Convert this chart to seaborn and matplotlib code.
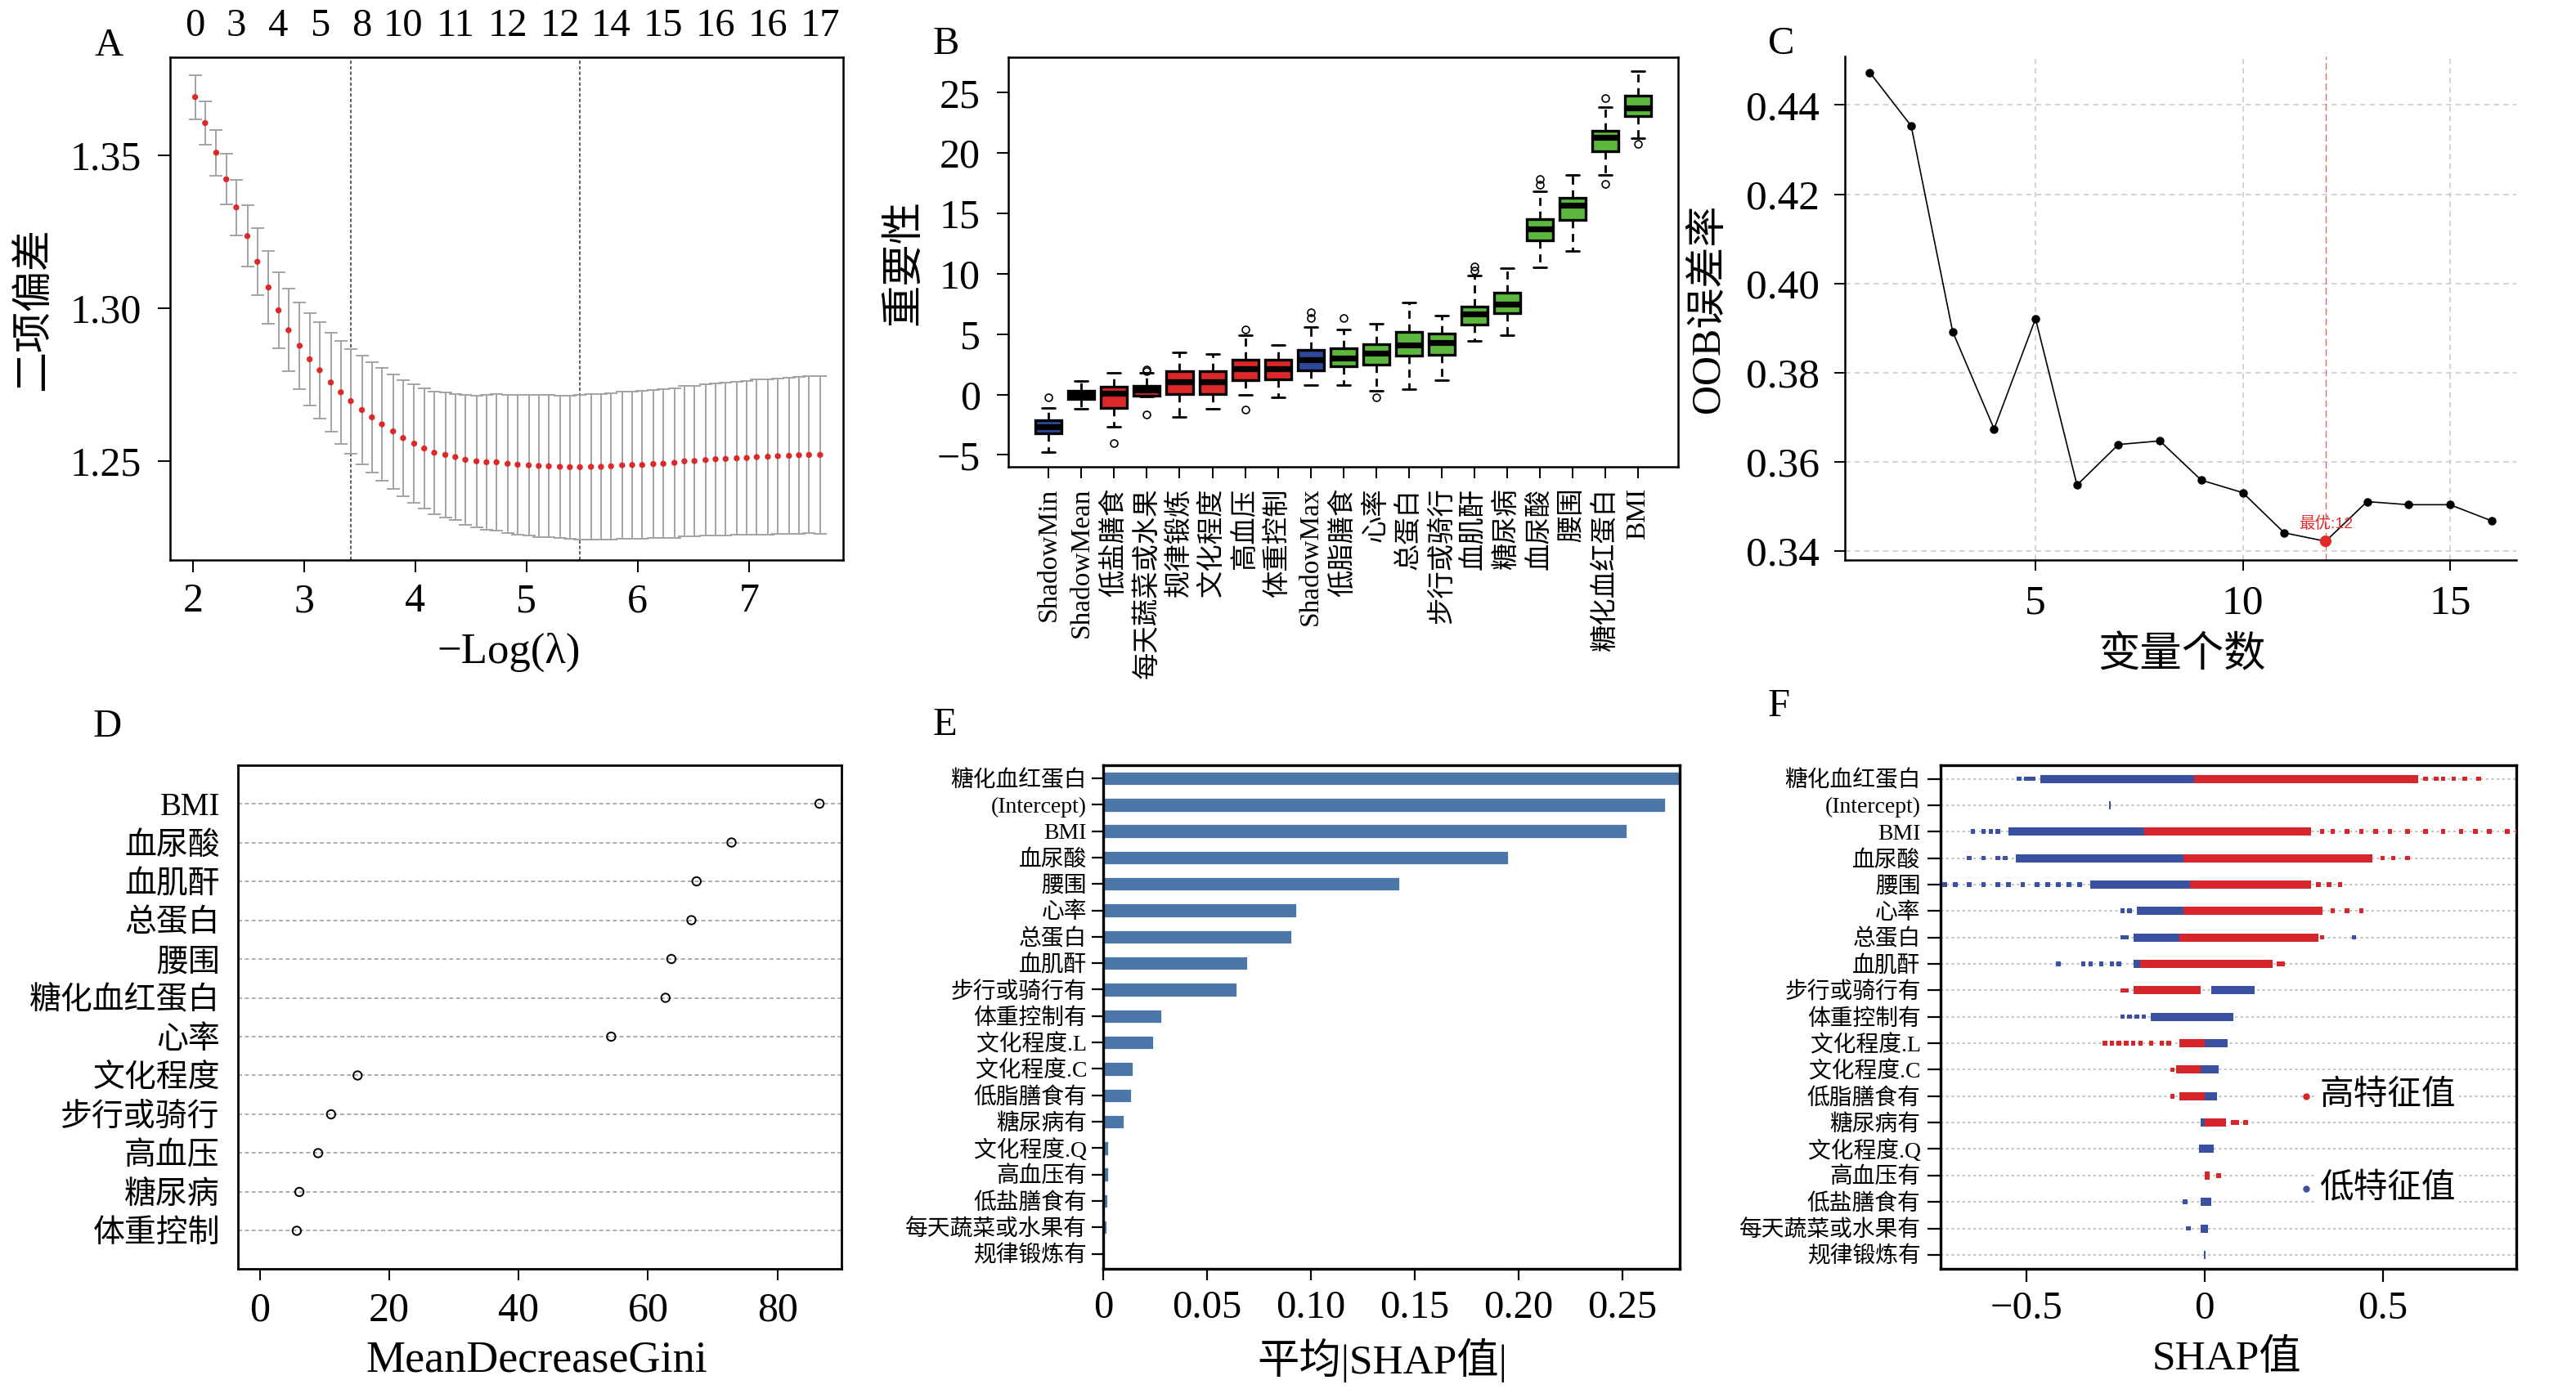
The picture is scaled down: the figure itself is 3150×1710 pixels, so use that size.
import numpy as np
import pandas as pd
import matplotlib
matplotlib.use("Agg")
import matplotlib.pyplot as plt
import seaborn as sns

nan = float("nan")

# ---------------- A: LASSO cross-validation ----------------
neg_log_lambda = [2.02, 2.11, 2.21, 2.30, 2.39, 2.49, 2.58, 2.68, 2.77, 2.86,
                  2.96, 3.05, 3.14, 3.24, 3.33, 3.42, 3.52, 3.61, 3.70, 3.80,
                  3.89, 3.99, 4.08, 4.17, 4.27, 4.36, 4.45, 4.55, 4.64, 4.73,
                  4.83, 4.92, 5.02, 5.11, 5.20, 5.30, 5.39, 5.48, 5.58, 5.67,
                  5.76, 5.86, 5.95, 6.04, 6.14, 6.23, 6.33, 6.42, 6.51, 6.61,
                  6.70, 6.79, 6.89, 6.98, 7.07, 7.17, 7.26, 7.36, 7.45, 7.54, 7.64]
cv_mean = [1.3691, 1.3606, 1.3509, 1.3422, 1.3330, 1.3236, 1.3152, 1.3068, 1.2993, 1.2928,
           1.2877, 1.2833, 1.2797, 1.2757, 1.2725, 1.2696, 1.2667, 1.2643, 1.2620, 1.2597,
           1.2575, 1.2557, 1.2541, 1.2527, 1.2520, 1.2513, 1.2504, 1.2499, 1.2496, 1.2496,
           1.2491, 1.2488, 1.2486, 1.2484, 1.2483, 1.2481, 1.2480, 1.2480, 1.2481, 1.2481,
           1.2483, 1.2486, 1.2487, 1.2487, 1.2490, 1.2491, 1.2494, 1.2499, 1.2500, 1.2503,
           1.2506, 1.2507, 1.2509, 1.2510, 1.2513, 1.2514, 1.2516, 1.2517, 1.2519, 1.2520, 1.2520]
cv_se = [0.0072, 0.0070, 0.0075, 0.0083, 0.0091, 0.0100, 0.0110, 0.0119, 0.0125, 0.0135,
         0.0142, 0.0152, 0.0157, 0.0162, 0.0168, 0.0171, 0.0177, 0.0180, 0.0184, 0.0187,
         0.0190, 0.0194, 0.0197, 0.0201, 0.0204, 0.0207, 0.0212, 0.0216, 0.0220, 0.0223,
         0.0226, 0.0228, 0.0230, 0.0232, 0.0233, 0.0234, 0.0235, 0.0236, 0.0237, 0.0238,
         0.0239, 0.0240, 0.0241, 0.0242, 0.0243, 0.0244, 0.0245, 0.0246, 0.0247, 0.0248,
         0.0249, 0.0250, 0.0251, 0.0252, 0.0253, 0.0254, 0.0255, 0.0256, 0.0257, 0.0257, 0.0258]
nzero_idx = [0, 4, 8, 12, 16, 20, 25, 30, 35, 40, 45, 50, 55, 60]
nzero_lab = ["0", "3", "4", "5", "8", "10", "11", "12", "12", "14", "15", "16", "16", "17"]
lambda_1se_idx = 15
lambda_min_idx = 37

# ---------------- B: Boruta importance ----------------
boruta_vars = ["ShadowMin", "ShadowMean", "低盐膳食", "每天蔬菜或水果", "规律锻炼", "文化程度",
               "高血压", "体重控制", "ShadowMax", "低脂膳食", "心率", "总蛋白", "步行或骑行",
               "血肌酐", "糖尿病", "血尿酸", "腰围", "糖化血红蛋白", "BMI"]
boruta_status = ["shadow", "shadow", "rejected", "rejected", "rejected", "rejected",
                 "rejected", "rejected", "shadow", "confirmed", "confirmed", "confirmed",
                 "confirmed", "confirmed", "confirmed", "confirmed", "confirmed", "confirmed", "confirmed"]
b_whislo = [-4.77, -1.17, -2.64, -0.20, -1.84, -1.17, 0.00, -0.26, 0.77, 0.77, 0.29, 0.44, 1.21,
            4.41, 4.88, 10.50, 11.86, 18.17, 21.22]
b_q1 = [-3.23, -0.37, -1.14, -0.11, 0.07, 0.07, 1.17, 1.28, 1.98, 2.35, 2.46, 3.19, 3.30,
        5.76, 6.75, 12.78, 14.46, 20.12, 23.05]
b_med = [-2.64, 0.00, 0.11, 0.40, 1.03, 1.03, 2.13, 2.13, 2.86, 3.01, 3.45, 4.11, 4.33,
         6.64, 7.49, 13.73, 15.71, 21.29, 23.75]
b_q3 = [-2.13, 0.29, 0.66, 0.73, 1.91, 1.91, 2.86, 2.86, 3.71, 3.85, 4.18, 5.21, 5.07,
        7.31, 8.44, 14.50, 16.26, 21.81, 24.78]
b_whishi = [-1.10, 1.10, 1.80, 1.80, 3.49, 3.38, 4.88, 4.07, 5.62, 5.40, 5.84, 7.64, 6.53,
            9.84, 10.46, 16.81, 18.17, 23.83, 26.80]
b_fliers = [[-0.26], [], [-4.04], [2.09, 1.91, -1.65], [], [], [5.36, -1.28], [], [6.31, 6.79],
            [6.35], [-0.26], [], [], [10.28, 10.57], [], [17.36, 17.84], [], [24.52, 17.47], [20.74]]

# ---------------- C: OOB error vs number of variables ----------------
n_vars = [1, 2, 3, 4, 5, 6, 7, 8, 9, 10, 11, 12, 13, 14, 15, 16]
oob_err = [0.4473, 0.4353, 0.3892, 0.3674, 0.3921, 0.3548, 0.3639, 0.3647,
           0.3559, 0.3531, 0.3441, 0.3422, 0.3511, 0.3504, 0.3504, 0.3468]
best_n = 12

# ---------------- D: MeanDecreaseGini ----------------
gini_vars = ["BMI", "血尿酸", "血肌酐", "总蛋白", "腰围", "糖化血红蛋白", "心率",
             "文化程度", "步行或骑行", "高血压", "糖尿病", "体重控制"]
gini_vals = [86.5, 72.9, 67.5, 66.7, 63.6, 62.7, 54.3, 15.1, 11.0, 9.0, 6.1, 5.7]

# ---------------- E: mean |SHAP| ----------------
shap_feats = ["糖化血红蛋白", "(Intercept)", "BMI", "血尿酸", "腰围", "心率", "总蛋白", "血肌酐",
              "步行或骑行有", "体重控制有", "文化程度.L", "文化程度.C", "低脂膳食有", "糖尿病有",
              "文化程度.Q", "高血压有", "低盐膳食有", "每天蔬菜或水果有", "规律锻炼有"]
shap_mean_abs = [0.2800, 0.2708, 0.2524, 0.1952, 0.1430, 0.0933, 0.0911, 0.0698,
                 0.0647, 0.0284, 0.0246, 0.0146, 0.0136, 0.0103, 0.0028, 0.0028,
                 0.0025, 0.0018, 0.0003]

# ---------------- F: SHAP summary (dense ranges + sparse points) ----------------
low_band_lo = [-0.46, -0.268, -0.55, -0.53, -0.32, -0.19, -0.20, -0.20, 0.02, -0.15,
               0.00, -0.01, 0.00, -0.01, -0.015, nan, -0.01, -0.01, -0.002]
low_band_hi = [-0.02, -0.264, -0.15, -0.04, -0.03, 0.02, 0.11, 0.13, 0.14, 0.08,
               0.065, 0.04, 0.035, 0.02, 0.025, nan, 0.02, 0.01, 0.002]
high_band_lo = [-0.03, nan, -0.17, -0.06, -0.04, -0.06, -0.07, -0.18, -0.20, nan,
                -0.07, -0.08, -0.07, 0.00, nan, 0.00, nan, nan, nan]
high_band_hi = [0.60, nan, 0.30, 0.47, 0.30, 0.33, 0.32, 0.19, -0.01, nan,
                0.00, -0.01, 0.00, 0.06, nan, 0.015, nan, nan, nan]
low_pts_feat = ["糖化血红蛋白"] * 4 + ["BMI"] * 4 + ["血尿酸"] * 4 + ["腰围"] * 12 + ["心率"] * 2 + \
               ["总蛋白"] * 3 + ["血肌酐"] * 6 + ["体重控制有"] * 4 + ["低盐膳食有"] + ["每天蔬菜或水果有"]
low_pts_shap = [-0.52, -0.50, -0.49, -0.48,
                -0.65, -0.62, -0.60, -0.58,
                -0.66, -0.62, -0.58, -0.56,
                -0.73, -0.70, -0.66, -0.62, -0.58, -0.55, -0.51, -0.47, -0.44, -0.41, -0.38, -0.35,
                -0.23, -0.21,
                -0.23, -0.22, 0.42,
                -0.41, -0.34, -0.32, -0.29, -0.26, -0.24,
                -0.23, -0.21, -0.19, -0.17,
                -0.054,
                -0.045]
high_pts_feat = ["糖化血红蛋白"] * 6 + ["BMI"] * 14 + ["血尿酸"] * 3 + ["腰围"] * 3 + ["心率"] * 3 + \
                ["总蛋白"] + ["血肌酐"] * 2 + ["步行或骑行有"] * 2 + ["文化程度.L"] * 9 + \
                ["文化程度.C"] + ["低脂膳食有"] + ["糖尿病有"] * 3 + ["高血压有"]
high_pts_shap = [0.62, 0.65, 0.67, 0.70, 0.73, 0.77,
                 0.33, 0.36, 0.40, 0.44, 0.48, 0.52, 0.57, 0.62, 0.67, 0.72, 0.76, 0.80, 0.85, 0.88,
                 0.50, 0.53, 0.57,
                 0.32, 0.35, 0.38,
                 0.36, 0.40, 0.44,
                 0.33,
                 0.21, 0.22,
                 -0.23, -0.22,
                 -0.28, -0.26, -0.24, -0.22, -0.20, -0.18, -0.15, -0.12, -0.10,
                 -0.09,
                 -0.09,
                 0.08, 0.09, 0.115,
                 0.04]

# ---------------- style ----------------
sns.set_theme(style="white")
plt.rcParams["font.family"] = ["Liberation Serif", "Noto Sans CJK SC"]
plt.rcParams.update({
    "text.color": "black", "axes.labelcolor": "black", "axes.edgecolor": "black",
    "xtick.color": "black", "ytick.color": "black", "axes.unicode_minus": True,
})

RED = "#DC2828"
BLUE = "#2D4A9A"
GREEN = "#5CB83D"
status_col = {"shadow": BLUE, "rejected": RED, "confirmed": GREEN}

W, H = 3150, 1710
fig = plt.figure(figsize=(W / 200, H / 200), dpi=200)


def px_axes(l, t, r, b):
    return fig.add_axes([l / W, 1 - b / H, (r - l) / W, (b - t) / H])


def frame(ax, lw=0.9, sides=("left", "right", "top", "bottom")):
    for s in ["left", "right", "top", "bottom"]:
        ax.spines[s].set_visible(s in sides)
        ax.spines[s].set_linewidth(lw)
        ax.spines[s].set_color("black")


# ======== Panel A ========
axA = px_axes(208, 70.5, 1031, 685)
dfA = pd.DataFrame({"x": neg_log_lambda, "y": cv_mean, "se": cv_se})
axA.errorbar(dfA["x"], dfA["y"], yerr=dfA["se"], fmt="none", ecolor="#A3A3A3",
             elinewidth=0.7, capsize=3, capthick=0.7, zorder=2)
sns.scatterplot(data=dfA, x="x", y="y", color=RED, s=7, edgecolor="none", ax=axA, zorder=3)
for idx in (lambda_1se_idx, lambda_min_idx):
    axA.axvline(neg_log_lambda[idx], color="#444444", lw=0.6, ls=(0, (2.5, 1.5)), zorder=1)
axA.set_xlim(1.795, 7.847)
axA.set_ylim(1.2176, 1.382)
axA.set_xticks([2, 3, 4, 5, 6, 7])
axA.set_yticks([1.25, 1.30, 1.35], ["1.25", "1.30", "1.35"])
axA.tick_params(axis="both", direction="out", length=5.5, width=0.7, labelsize=18,
                bottom=True, left=True)
axA.tick_params(axis="x", pad=4.5)
axA.tick_params(axis="y", pad=7)
axA.set_xlabel("−Log(λ)", fontsize=19, va="center")
axA.xaxis.set_label_coords(0.503, -0.184)
axA.set_ylabel("二项偏差", fontsize=18, va="center")
axA.yaxis.set_label_coords(-0.202, 0.5)
frame(axA)
topA = axA.secondary_xaxis("top")
topA.set_xticks([neg_log_lambda[i] for i in nzero_idx], nzero_lab)
topA.tick_params(length=0, pad=5.8, labelsize=17.5)
topA.spines["top"].set_visible(False)

# ======== Panel B ========
axB = px_axes(1233, 70.5, 2052.5, 571)
stats = [dict(label=v, whislo=a, q1=b, med=c, q3=d, whishi=e, fliers=f)
         for v, a, b, c, d, e, f in zip(boruta_vars, b_whislo, b_q1, b_med, b_q3, b_whishi, b_fliers)]
positions = list(range(1, len(stats) + 1))
bp = axB.bxp(stats, positions=positions, widths=0.8, capwidths=0.4, patch_artist=True,
             boxprops=dict(linewidth=1.2, edgecolor="black"),
             medianprops=dict(color="black", linewidth=2.6),
             whiskerprops=dict(color="black", linewidth=1.0, linestyle=(0, (3.5, 2.5))),
             capprops=dict(color="black", linewidth=1.0),
             flierprops=dict(marker="o", markerfacecolor="none", markeredgecolor="black",
                             markersize=3.2, markeredgewidth=0.6))
for patch, st in zip(bp["boxes"], boruta_status):
    patch.set_facecolor(status_col[st])
axB.set_xlim(-0.23, 20.23)
axB.set_ylim(-5.99, 27.9)
axB.set_xticks(positions, boruta_vars, rotation=90)
axB.set_yticks([-5, 0, 5, 10, 15, 20, 25], ["−5", "0", "5", "10", "15", "20", "25"])
axB.tick_params(axis="both", direction="out", length=5.2, width=0.7, bottom=True, left=True)
axB.tick_params(axis="x", labelsize=12, pad=4)
axB.tick_params(axis="y", labelsize=18, pad=7)
axB.set_ylabel("重要性", fontsize=18.5, va="center")
axB.yaxis.set_label_coords(-0.154, 0.5)
frame(axB)

# ======== Panel C ========
axC = px_axes(2256, 69, 3077, 685)
dfC = pd.DataFrame({"n": n_vars, "oob": oob_err})
axC.grid(True, color="#CCCCCC", lw=0.6, ls=(0, (4, 3)))
axC.set_axisbelow(True)
axC.axvline(best_n, color="#E06A6A", lw=0.5, ls=(0, (6, 3)), zorder=1)
sns.lineplot(data=dfC, x="n", y="oob", color="black", lw=0.6, marker="o", markersize=3.0,
             markeredgecolor="black", ax=axC, zorder=3)
best = dfC[dfC["n"] == best_n]
sns.scatterplot(data=best, x="n", y="oob", color="#E02A2A", s=26, edgecolor="none", ax=axC, zorder=4)
axC.text(best_n, best["oob"].iloc[0] + 0.004, "最优:12", color="#E03030", fontsize=7,
         ha="center", va="center", family=["Liberation Sans", "Noto Sans CJK SC"])
axC.set_xlim(0.4, 16.6)
axC.set_ylim(0.338, 0.4509)
axC.set_xticks([5, 10, 15])
axC.set_yticks([0.34, 0.36, 0.38, 0.40, 0.42, 0.44], ["0.34", "0.36", "0.38", "0.40", "0.42", "0.44"])
axC.tick_params(axis="both", direction="out", length=4.8, width=0.7, labelsize=18.5,
                bottom=True, left=True)
axC.tick_params(axis="x", pad=6)
axC.tick_params(axis="y", pad=6.5)
axC.set_xlabel("变量个数", fontsize=18.5, va="center")
axC.xaxis.set_label_coords(0.502, -0.19)
axC.set_ylabel("OOB误差率", fontsize=18, va="center")
axC.yaxis.set_label_coords(-0.202, 0.5)
frame(axC, sides=("left", "bottom"))

# ======== Panel D ========
axD = px_axes(290.5, 936.5, 1029, 1552)
dfD = pd.DataFrame({"var": gini_vars, "gini": gini_vals, "row": range(len(gini_vars))})
axD.set_yticks(dfD["row"], dfD["var"])
axD.grid(True, axis="y", color="#A0A0A0", lw=0.6, ls=(0, (3, 2)))
axD.set_axisbelow(True)
sns.scatterplot(data=dfD, x="gini", y="row", marker="o", s=14, facecolor="none",
                edgecolor="black", linewidth=0.7, ax=axD, zorder=3)
axD.set_xlim(-3.45, 89.9)
axD.set_ylim(11.98, -0.98)
axD.set_xticks([0, 20, 40, 60, 80])
axD.tick_params(axis="x", direction="out", length=5, width=0.7, labelsize=18, pad=4.9, bottom=True)
axD.tick_params(axis="y", length=0, labelsize=14, pad=7.8, left=False)
axD.set_xlabel("MeanDecreaseGini", fontsize=19.5, va="center")
axD.xaxis.set_label_coords(0.495, -0.183)
axD.set_ylabel("")
frame(axD, lw=1.0)

# ======== Panel E ========
axE = px_axes(1349, 936.5, 2053.5, 1552)
dfE = pd.DataFrame({"feat": shap_feats, "val": shap_mean_abs})
sns.barplot(data=dfE, x="val", y="feat", orient="h", color="#4A77A8", saturation=1,
            width=0.57, ax=axE)
axE.set_xlim(0, 0.2773)
axE.set_ylim(18.57, -0.48)
axE.set_xticks([0, 0.05, 0.10, 0.15, 0.20, 0.25], ["0", "0.05", "0.10", "0.15", "0.20", "0.25"])
axE.tick_params(axis="both", direction="out", length=5.2, width=0.8, bottom=True, left=True)
axE.tick_params(axis="x", labelsize=17.5, pad=4)
axE.tick_params(axis="y", labelsize=10, pad=2)
axE.set_xlabel("平均|SHAP值|", fontsize=18.5, va="center")
axE.xaxis.set_label_coords(0.484, -0.182)
axE.set_ylabel("")
frame(axE, lw=1.2)

# ======== Panel F ========
axF = px_axes(2372.5, 936, 3076.5, 1552)
rowsF = np.arange(len(shap_feats))
axF.set_yticks(rowsF, shap_feats)
axF.grid(True, axis="y", color="#BBBBBB", lw=0.6, ls=(0, (2, 2)))
axF.set_axisbelow(True)
FRED = "#D7262B"
FBLUE = "#3A50A0"
axF.hlines(rowsF, low_band_lo, low_band_hi, colors=FBLUE, lw=3.6, zorder=2)
axF.hlines(rowsF, high_band_lo, high_band_hi, colors=FRED, lw=3.6, zorder=3)
row_of = {f: i for i, f in enumerate(shap_feats)}
dfF = pd.DataFrame({
    "shap": low_pts_shap + high_pts_shap,
    "row": [row_of[f] for f in low_pts_feat] + [row_of[f] for f in high_pts_feat],
    "level": ["低"] * len(low_pts_shap) + ["高"] * len(high_pts_shap),
})
sns.scatterplot(data=dfF, x="shap", y="row", hue="level", palette={"低": FBLUE, "高": FRED},
                marker="s", s=4, edgecolor="none", legend=False, ax=axF, zorder=4)
axF.set_xlim(-0.742, 0.874)
axF.set_ylim(18.53, -0.51)
axF.set_xticks([-0.5, 0, 0.5], ["−0.5", "0", "0.5"])
axF.tick_params(axis="both", direction="out", length=5.6, width=0.8, bottom=True, left=True)
axF.tick_params(axis="x", labelsize=17.6, pad=4)
axF.tick_params(axis="y", labelsize=10, pad=3)
axF.set_xlabel("SHAP值", fontsize=18.5, va="center")
axF.xaxis.set_label_coords(0.498, -0.179)
axF.set_ylabel("")
for lab, yy, col in (("高特征值", 12.0, FRED), ("低特征值", 15.5, FBLUE)):
    axF.plot([0.285], [yy], marker="o", ms=2, color=col, zorder=6)
    axF.text(0.323, yy, lab, fontsize=15, ha="left", va="center", zorder=5,
             bbox=dict(facecolor="white", edgecolor="none", pad=1.5))
frame(axF, lw=1.2)

# ======== panel letters ========
for letter, x, y in (("A", 133, 56), ("B", 1157, 54), ("C", 2178, 54.5),
                     ("D", 131.5, 888.5), ("E", 1155, 887), ("F", 2175, 864)):
    fig.text(x / W, 1 - y / H, letter, fontsize=17.5, ha="center", va="center")

fig.savefig("out.png", dpi=200)
